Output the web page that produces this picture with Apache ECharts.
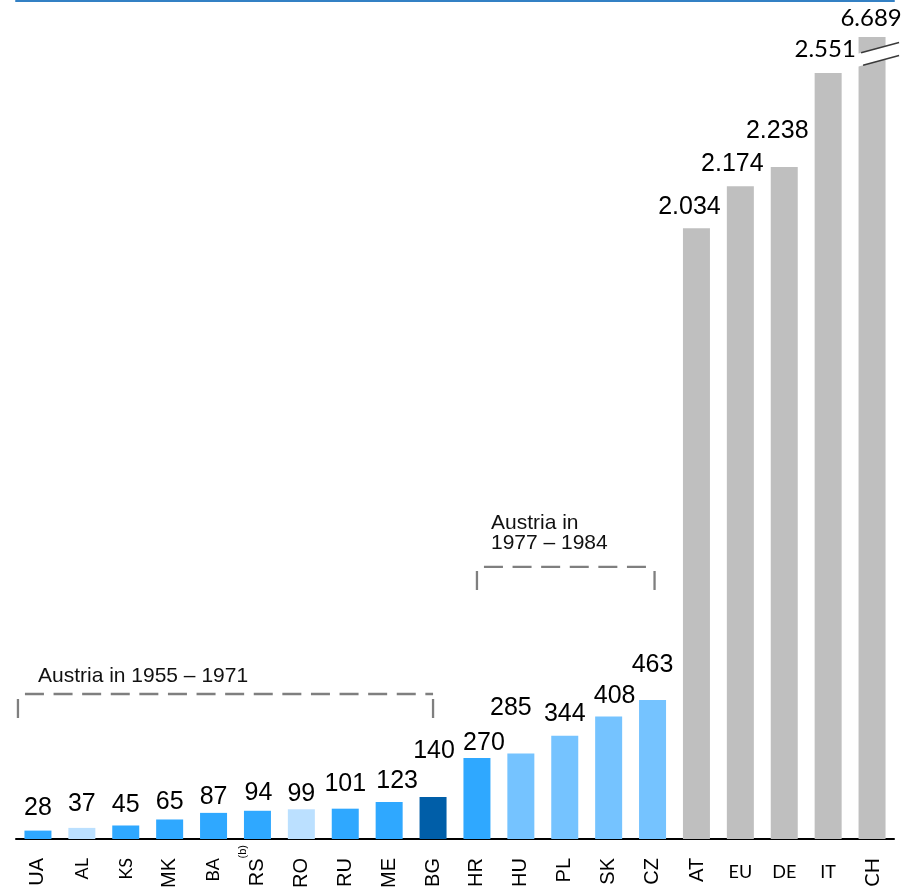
<!DOCTYPE html>
<html>
<head>
<meta charset="utf-8">
<script src="https://cdn.jsdelivr.net/npm/echarts@6/dist/echarts.min.js"></script>
<style>
  html, body { margin: 0; padding: 0; background: #ffffff; }
  #chart { width: 916px; height: 889px; }
</style>
</head>
<body>
<div id="chart"></div>
<script>
// Country codes along the x axis
const categories = ['UA', 'AL', 'KS', 'MK', 'BA', 'RS', 'RO', 'RU', 'ME', 'BG',
                    'HR', 'HU', 'PL', 'SK', 'CZ', 'AT', 'EU', 'DE', 'IT', 'CH'];
// Bar values
const values = [28, 37, 45, 65, 87, 94, 99, 101, 123, 140,
                270, 285, 344, 408, 463, 2034, 2174, 2238, 2551, 6689];
// Colour group of every bar
const groups = ['blue', 'pale', 'blue', 'blue', 'blue', 'blue', 'pale', 'blue', 'blue', 'dark',
                'blue', 'light', 'light', 'light', 'light', 'grey', 'grey', 'grey', 'grey', 'grey'];
// Period brackets drawn above groups of bars
const brackets = [
  { from: 'UA', to: 'BG', text: 'Austria in 1955 – 1971' },
  { from: 'HR', to: 'CZ', text: 'Austria in\n1977 – 1984' }
];
// Collapsed part of the value axis (only CH reaches above it)
const valueBreak = { start: 2600, end: 6618 };

const palette = {
  blue: '#2fa8ff',
  pale: '#bbe0ff',
  dark: '#005ea8',
  light: '#75c3ff',
  grey: '#bfbfbf'
};

// Placement of bracket annotations (level in axis units, the rest in pixels)
const bracketLayout = [
  { level: 483, drop: 24, padLeft: -20, padRight: 0, textDx: 20, textDy: -8 },
  { level: 906, drop: 23, padLeft: 0, padRight: 2, textDx: 14, textDy: -14 }
];

// Small per-bar label shifts [dx, dy]
const labelNudge = {
  UA: [0, -4], AL: [0, -5], KS: [0, -2], MK: [0, 1], BA: [0, 3], RS: [1, 1],
  RO: [0, 3], RU: [0, -6], ME: [8, -2], BG: [1, -27], HR: [7, 4], HU: [-10, -27],
  PL: [0, -3], SK: [6, -2], CZ: [0, -16], AT: [-7, -3], EU: [-8, -4], DE: [-7, -17],
  IT: [-3, -6], CH: [-1, -1]
};
const humanistValueLabels = ['IT', 'CH'];
const smallCodes = ['AL', 'KS', 'BA'];
const wideCodes = ['AT', 'CH'];
const flatCodes = ['EU', 'DE', 'IT'];

const SANS = '"Liberation Sans", Arial, sans-serif';
const HUMANIST = 'Lato, "Open Sans", sans-serif';

function formatValue(v) {
  return String(v).replace(/\B(?=(\d{3})+(?!\d))/g, '.');
}

function rotatedLabel(code) {
  if (flatCodes.includes(code)) return '';
  if (code === 'RS') return '{rs|RS}{sup|(b)}';
  if (smallCodes.includes(code)) return '{lt|' + code + '}{sp| }';
  if (wideCodes.includes(code)) return '{ltb|' + code + '}{sp| }';
  return '{ar|' + code + '}{sp| }';
}

const chart = echarts.init(document.getElementById('chart'), null, { renderer: 'canvas' });

const option = {
  animation: false,
  backgroundColor: '#ffffff',
  grid: { left: 16, right: 22, top: 1, bottom: 50, containLabel: false, outerBoundsMode: 'none' },
  xAxis: [
    {
      type: 'category',
      data: categories,
      position: 'bottom',
      axisLine: { show: true, lineStyle: { color: '#000000', width: 2 } },
      axisTick: { show: false },
      splitLine: { show: false },
      axisLabel: {
        interval: 0,
        rotate: 90,
        margin: 6,
        formatter: rotatedLabel,
        rich: {
          ar: { fontFamily: SANS, fontSize: 20, color: '#000' },
          lt: { fontFamily: HUMANIST, fontSize: 18, color: '#000' },
          ltb: { fontFamily: HUMANIST, fontSize: 20, color: '#000' },
          sp: { width: 13, fontSize: 10 },
          rs: { fontFamily: SANS, fontSize: 20, lineHeight: 40, color: '#000' },
          sup: { fontFamily: SANS, fontSize: 11, lineHeight: 11, verticalAlign: 'top', color: '#000' }
        }
      }
    },
    {
      type: 'category',
      data: categories,
      position: 'bottom',
      axisLine: { show: false },
      axisTick: { show: false },
      splitLine: { show: false },
      axisLabel: {
        interval: 0,
        rotate: 0,
        margin: 24,
        formatter: c => flatCodes.includes(c) ? c : '',
        fontFamily: HUMANIST,
        fontSize: 18,
        color: '#000'
      }
    },
    {
      type: 'category',
      data: categories,
      position: 'top',
      axisLine: { show: true, lineStyle: { color: '#3380c4', width: 2 } },
      axisTick: { show: false },
      axisLabel: { show: false },
      splitLine: { show: false }
    }
  ],
  yAxis: {
    type: 'value',
    min: 0,
    max: 6809,
    axisLine: { show: false },
    axisTick: { show: false },
    axisLabel: { show: false },
    splitLine: { show: false },
    breaks: [{ start: valueBreak.start, end: valueBreak.end, gap: 0 }],
    breakArea: { show: false }
  },
  series: [
    {
      type: 'bar',
      xAxisIndex: 0,
      barWidth: 27,
      silent: true,
      data: values.map((v, i) => {
        const code = categories[i];
        const label = { offset: labelNudge[code] || [0, 0] };
        if (humanistValueLabels.includes(code)) {
          label.fontFamily = HUMANIST;
          label.fontSize = 24;
        }
        return { value: v, itemStyle: { color: palette[groups[i]] }, label };
      }),
      label: {
        show: true,
        position: 'top',
        distance: 6,
        fontFamily: SANS,
        fontSize: 25,
        color: '#000',
        formatter: p => formatValue(p.value)
      }
    },
    {
      // dashed period brackets with their captions
      type: 'custom',
      xAxisIndex: 0,
      silent: true,
      clip: false,
      z: 4,
      encode: { x: [0, 1], y: 2 },
      data: brackets.map((b, i) => [categories.indexOf(b.from), categories.indexOf(b.to), bracketLayout[i].level]),
      renderItem: (params, api) => {
        const lay = bracketLayout[params.dataIndex];
        const b = brackets[params.dataIndex];
        const p1 = api.coord([api.value(0), api.value(2)]);
        const p2 = api.coord([api.value(1), api.value(2)]);
        const x1 = p1[0] + lay.padLeft;
        const x2 = p2[0] + lay.padRight;
        const yt = p1[1];
        const yb = yt + lay.drop;
        const stroke = { stroke: '#7f7f7f', lineWidth: 2.3, lineDash: [19, 9.6], fill: null };
        return {
          type: 'group',
          children: [
            { type: 'line', shape: { x1: x1, y1: yb, x2: x1, y2: yt }, style: stroke },
            { type: 'line', shape: { x1: x1 + 7, y1: yt, x2: x2, y2: yt }, style: stroke },
            { type: 'line', shape: { x1: x2, y1: yb, x2: x2, y2: yt }, style: stroke },
            {
              type: 'text',
              style: {
                text: b.text,
                x: x1 + lay.textDx,
                y: yt + lay.textDy,
                align: 'left',
                verticalAlign: 'bottom',
                fill: '#111',
                fontFamily: SANS,
                fontSize: 21,
                lineHeight: 20
              }
            }
          ]
        };
      }
    },
    {
      // break symbol across the CH bar
      type: 'custom',
      xAxisIndex: 0,
      silent: true,
      clip: false,
      z: 5,
      encode: { x: 0, y: 1 },
      data: [[categories.indexOf('CH'), valueBreak.start]],
      renderItem: (params, api) => {
        const c = api.coord([api.value(0), api.value(1)]);
        const cx = c[0], cy = c[1] - 2;
        const s = 10 / 37;
        const up = x => cy - 6.5 - s * (x - cx);
        const lo = x => cy + 6.5 - s * (x - cx);
        const xl = cx - 14.5, xr = cx + 27, xs = cx - 11;
        return {
          type: 'group',
          children: [
            {
              type: 'polygon',
              shape: { points: [[xl, up(xl)], [xr, up(xr)], [xr, lo(xr)], [xl, lo(xl)]] },
              style: { fill: '#ffffff' }
            },
            { type: 'line', shape: { x1: xs, y1: up(xs), x2: xr, y2: up(xr) }, style: { stroke: '#3a3a3a', lineWidth: 1.5 } },
            { type: 'line', shape: { x1: xs + 2, y1: lo(xs + 2), x2: xr, y2: lo(xr) }, style: { stroke: '#3a3a3a', lineWidth: 1.5 } }
          ]
        };
      }
    }
  ]
};

chart.setOption(option);
</script>
</body>
</html>
